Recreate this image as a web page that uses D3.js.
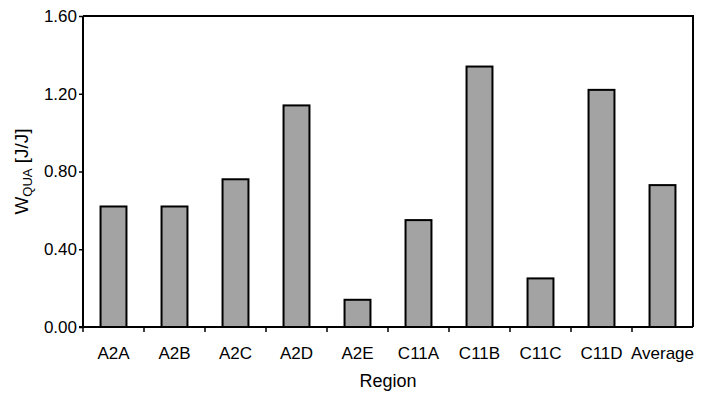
<!DOCTYPE html>
<html>
<head>
<meta charset="utf-8">
<script src="https://cdn.jsdelivr.net/npm/d3@7"></script>
<style>
  body { margin: 0; background: #fff; }
  text { font-family: "Liberation Sans", Arial, sans-serif; fill: #000; }
</style>
</head>
<body>
<svg id="chart" width="709" height="397"></svg>
<script>
const regions = ["A2A", "A2B", "A2C", "A2D", "A2E", "C11A", "C11B", "C11C", "C11D", "Average"]
const wqua = [0.62, 0.62, 0.76, 1.14, 0.14, 0.55, 1.34, 0.25, 1.22, 0.73]
const yTicks = [0, 0.4, 0.8, 1.2, 1.6]

const margins = {left: 83, right: 16, top: 16, bottom: 70}
const width = 709, height = 397
const innerWidth = width - margins.left - margins.right
const innerHeight = height - margins.top - margins.bottom

const svg = d3.select("#chart")
const g = svg.append("g").attr("transform", `translate(${margins.left},${margins.top})`)

const x = d3.scaleBand().domain(regions).range([0, innerWidth]).paddingInner(0.575).paddingOuter(0.2875)
const y = d3.scaleLinear().domain([0, 1.6]).range([innerHeight, 0])

// bars
g.selectAll("rect.bar")
  .data(regions)
  .join("rect")
  .attr("class", "bar")
  .attr("x", d => x(d))
  .attr("width", x.bandwidth())
  .attr("y", (d, i) => y(wqua[i]))
  .attr("height", (d, i) => y(0) - y(wqua[i]))
  .attr("fill", "#a3a3a3")
  .attr("stroke", "#000")
  .attr("stroke-width", 2)

// frame (top + right)
g.append("path")
  .attr("d", `M0,0H${innerWidth}V${innerHeight}`)
  .attr("fill", "none")
  .attr("stroke", "#000")
  .attr("stroke-width", 2)

// y axis
const yAxis = g.append("g")
  .call(d3.axisLeft(y).tickValues(yTicks).tickFormat(d3.format(".2f")).tickSize(4).tickPadding(2))
yAxis.select(".domain").attr("stroke-width", 2).attr("d", `M0,${innerHeight}V0`)
yAxis.selectAll(".tick line").attr("stroke-width", 1.5)
yAxis.selectAll("text").style("font-size", "17px").attr("font-family", null)

// x axis: ticks between categories
const step = x.step()
const xAxis = g.append("g").attr("transform", `translate(0,${innerHeight})`)
xAxis.append("line")
  .attr("x1", -4).attr("x2", innerWidth)
  .attr("stroke", "#000").attr("stroke-width", 2)
xAxis.selectAll("line.tick")
  .data(d3.range(0, regions.length))
  .join("line")
  .attr("class", "tick")
  .attr("x1", i => i * step).attr("x2", i => i * step)
  .attr("y1", 0).attr("y2", 5)
  .attr("stroke", "#000").attr("stroke-width", 1.5)
xAxis.selectAll("text")
  .data(regions)
  .join("text")
  .attr("x", d => x(d) + x.bandwidth() / 2)
  .attr("y", 32)
  .attr("text-anchor", "middle")
  .style("font-size", "17px")
  .text(d => d)

// axis titles
svg.append("text")
  .attr("x", margins.left + innerWidth / 2)
  .attr("y", 387)
  .attr("text-anchor", "middle")
  .style("font-size", "18px")
  .text("Region")

const yTitle = svg.append("text")
  .attr("transform", `translate(28,${margins.top + innerHeight / 2}) rotate(-90)`)
  .attr("text-anchor", "middle")
  .style("font-size", "19px")
yTitle.append("tspan").text("W")
yTitle.append("tspan").attr("dy", 4).style("font-size", "13px").text("QUA")
yTitle.append("tspan").attr("dy", -4).text(" [J/J]")
</script>
</body>
</html>
